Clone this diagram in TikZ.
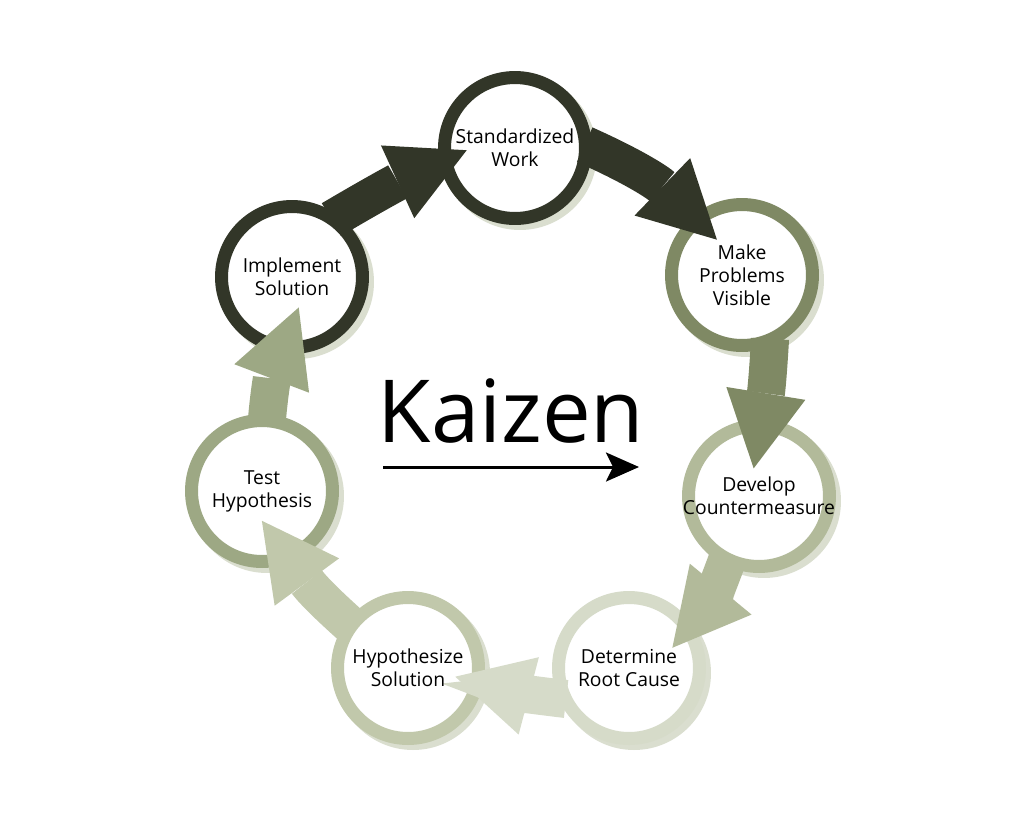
\documentclass[tikz,border=0pt]{standalone}
\usepackage{fontspec}
\setmainfont{Open Sans}
\usetikzlibrary{arrows.meta}

\definecolor{ca}{RGB}{50,54,40}
\definecolor{cb}{RGB}{127,137,100}
\definecolor{cc}{RGB}{178,186,154}
\definecolor{cd}{RGB}{214,219,201}
\definecolor{ce}{RGB}{193,200,171}
\definecolor{cf}{RGB}{157,168,132}
\definecolor{shade}{RGB}{218,222,207}

\pgfdeclarelayer{back}
\pgfsetlayers{back,main}

\begin{document}
\begin{tikzpicture}[
    x=0.02cm, y=0.02cm,
    ring/.style={
        circle, draw=#1, fill=white,
        line width=0.26cm,
        minimum size=2.82cm,
        inner sep=0pt,
        preaction={draw=shade, fill=shade,
            transform canvas={shift={(0.1cm,-0.1cm)}}},
    },
    flow/.style={
        draw=#1,
        line width=0.76cm,
        -{Triangle[length=1.52cm, width=1.6cm, line width=0pt]},
        shorten <=-0.16cm,
    },
    flowshade/.style={
        flow=shade,
        transform canvas={shift={(0.1cm,-0.1cm)}},
    },
    steptext/.style={
        align=center,
        inner sep=0pt,
        font=\fontsize{11}{13}\selectfont,
    },
]
    \useasboundingbox[fill=white] (0,0) rectangle (1024,-819);

    % the seven steps
    \foreach \n/\x/\y/\c in {%
        std/515/148/ca,
        make/742/275/cb,
        dev/759/496/cc,
        det/629/668/cd,
        hyp/408/668/ce,
        test/262/491/cf,
        impl/292/277/ca%
    }{
        \node[ring=\c] (\n) at (\x,-\y) {};
    }

    % arrows: tail/head/colour/bend/tip depth
    \foreach \a/\b/\c/\bnd/\t in {%
        impl.53/std.191/ca/3/0.6,
        std.0/make.130/ca/10/0.68,
        make.-69/dev.88/cb/3/1.0,
        dev.-116/det.35/cc/10/0.62,
        det.203/hyp.-12/cd/4/0.58,
        hyp.143/test.-67/ce/6/1.02,
        test.86/impl.262/cf/8/0.98%
    }{
        \begin{pgfonlayer}{back}
        \draw[flowshade, shorten >=-\t cm] (\a) to[bend left=\bnd] (\b);
        \end{pgfonlayer}
        \draw[flow=\c, shorten >=-\t cm] (\a) to[bend left=\bnd] (\b);
    }

    \foreach \n/\t in {%
        std/{Standardized\\Work},
        make/{Make\\Problems\\Visible},
        dev/{Develop\\Countermeasure},
        det/{Determine\\Root Cause},
        hyp/{Hypothesize\\Solution},
        test/{Test\\Hypothesis},
        impl/{Implement\\Solution}%
    }{
        \node[steptext] (t\n) at (\n) {\t};
    }

    \node[anchor=base, inner sep=0pt, font=\fontsize{49.5}{50}\selectfont] (kaizen) at (511,-442) {Kaizen};
    \coordinate (kzs) at (383,-467);
    \coordinate (kze) at (639,-467);
    \draw[line width=0.06cm, -{Stealth[length=0.66cm, width=0.58cm, inset=0.14cm]}] (kzs) -- (kze);
\end{tikzpicture}
\end{document}
